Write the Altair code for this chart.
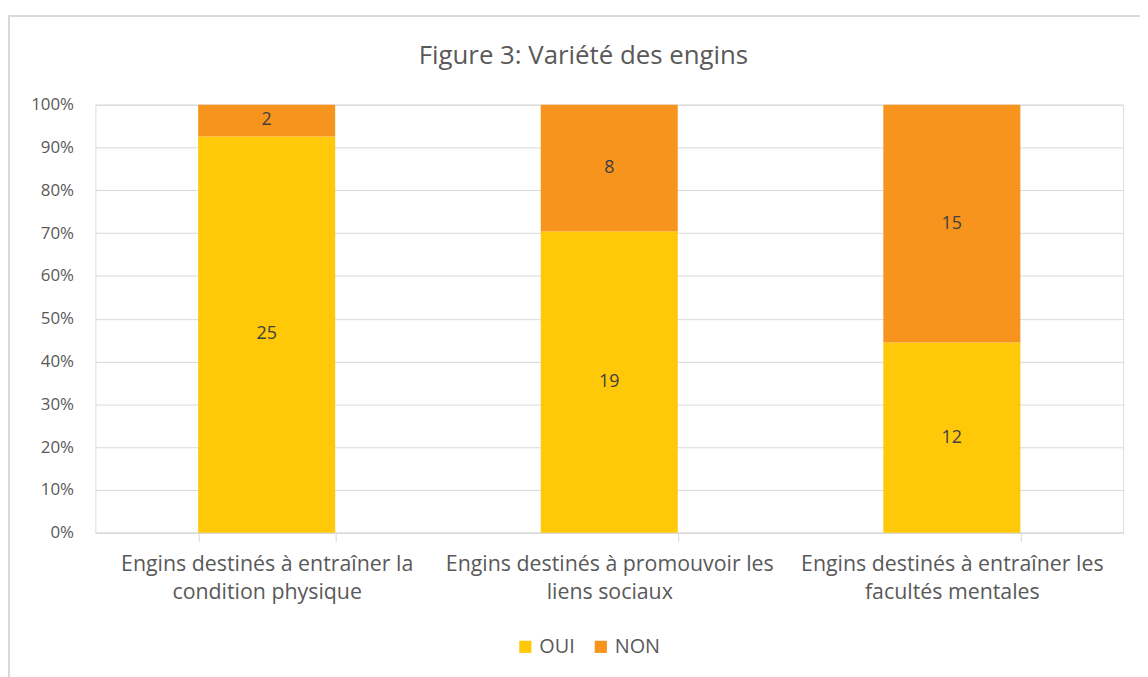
import altair as alt
import pandas as pd

categories = [
    "Engins destinés à entraîner la condition physique",
    "Engins destinés à promouvoir les liens sociaux",
    "Engins destinés à entraîner les facultés mentales",
]
label_lines = {
    categories[0]: ["Engins destinés à entraîner la", "condition physique"],
    categories[1]: ["Engins destinés à promouvoir les", "liens sociaux"],
    categories[2]: ["Engins destinés à entraîner les", "facultés mentales"],
}
series = ["OUI", "NON"]
oui = [25, 19, 12]
non = [2, 8, 15]
colors = ["#FFC90A", "#F7941D"]

rows = []
for i, c in enumerate(categories):
    rows.append({"cat": c, "rep": "OUI", "ord": 0, "v": oui[i]})
    rows.append({"cat": c, "rep": "NON", "ord": 1, "v": non[i]})
df = pd.DataFrame(rows)

FONT = "Open Sans"
GREY = "#595959"

label_expr = " : ".join(
    f"datum.value == '{c}' ? {label_lines[c]!r}" for c in categories
) + " : datum.value"

xenc = alt.X(
    "cat:N",
    sort=categories,
    title=None,
    scale=alt.Scale(paddingInner=0.6, paddingOuter=0.3),
    axis=alt.Axis(
        labelAngle=0,
        labelExpr=label_expr,
        labelFontSize=21.5,
        labelColor=GREY,
        labelFont=FONT,
        labelLineHeight=28,
        labelLimit=0,
        labelPadding=12,
        domainColor="#d9d9d9",
        tickColor="#d9d9d9",
        tickSize=9,
        tickBand="extent",
        grid=False,
    ),
)

base = alt.Chart(df).transform_stack(
    stack="v", as_=["y0", "y1"], groupby=["cat"], offset="normalize",
    sort=[alt.SortField("ord")],
).transform_calculate(mid="(datum.y0 + datum.y1) / 2")

bars = base.mark_bar().encode(
    x=xenc,
    y=alt.Y(
        "y0:Q",
        title=None,
        scale=alt.Scale(domain=[0, 1]),
        axis=alt.Axis(
            format=".0%",
            values=[i / 10 for i in range(11)],
            labelFontSize=17,
            labelColor=GREY,
            labelFont=FONT,
            labelPadding=22,
            ticks=False,
            domain=False,
            gridColor="#d9d9d9",
        ),
    ),
    y2="y1:Q",
    color=alt.Color(
        "rep:N",
        sort=series,
        scale=alt.Scale(domain=series, range=colors),
        legend=alt.Legend(
            title=None,
            orient="none",
            direction="horizontal",
            legendX=423,
            legendY=536,
            symbolType="square",
            symbolSize=150,
            symbolStrokeWidth=0,
            labelFontSize=20,
            labelColor=GREY,
            labelFont=FONT,
            labelOffset=4,
            columnPadding=16,
        ),
    ),
)

texts = base.mark_text(fontSize=18, color="#404040", font=FONT).encode(
    x=alt.X("cat:N", sort=categories),
    y=alt.Y("mid:Q"),
    text=alt.Text("v:Q"),
)

border = alt.Chart(df).mark_rect(fill=None, stroke="#d9d9d9", strokeWidth=1.5).encode(
    x=alt.value(-87), x2=alt.value(1070), y=alt.value(-89), y2=alt.value(620)
)

chart = alt.layer(border, bars, texts).properties(
    width=1035,
    height=431,
    padding={"left": 88, "top": 95, "right": 17, "bottom": 143},
    autosize=alt.AutoSizeParams(type="none"),
    title=alt.TitleParams(
        "Figure 3: Variété des engins",
        fontSize=26,
        fontWeight="normal",
        color=GREY,
        font=FONT,
        frame="group",
        offset=-54,
        dx=-26,
    ),
).configure_view(stroke=None).configure(background="white")

chart.save("out.html", embed_options={"renderer": "svg", "actions": False})
